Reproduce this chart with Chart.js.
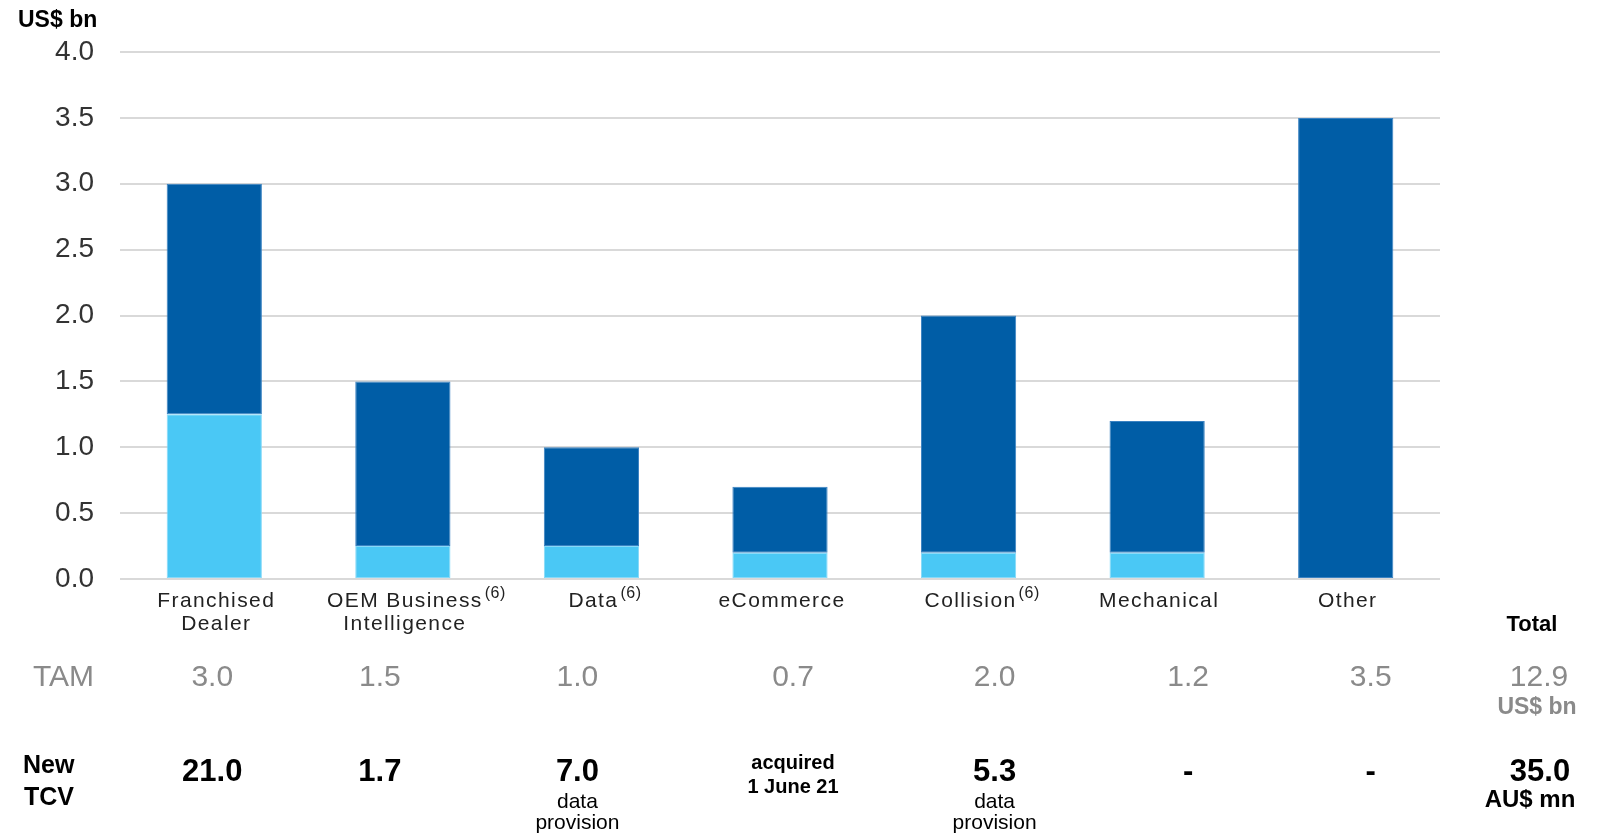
<!DOCTYPE html>
<html>
<head>
<meta charset="utf-8">
<script src="https://cdn.jsdelivr.net/npm/chart.js@4.4.1/dist/chart.umd.min.js"></script>
<style>
  html, body { margin: 0; padding: 0; background: #fff; }
  .chart-container { position: relative; width: 1601px; height: 836px; }
</style>
</head>
<body>
<div class="chart-container"><canvas id="tamChart"></canvas></div>
<script>
// категории и значения (US$ bn)
const categories = [['Franchised', 'Dealer'], ['OEM Business', 'Intelligence'], ['Data'], ['eCommerce'], ['Collision'], ['Mechanical'], ['Other']]
const footnotes = ['', '(6)', '(6)', '', '(6)', '', '']
const coreValues = [1.25, 0.25, 0.25, 0.2, 0.2, 0.2, 0]
const adjacentValues = [1.75, 1.25, 0.75, 0.5, 1.8, 1.0, 3.5]

// таблица под графиком
const tamLabels = ['3.0', '1.5', '1.0', '0.7', '2.0', '1.2', '3.5']
const tamTotal = '12.9'
const tcvLabels = ['21.0', '1.7', '7.0', '', '5.3', '-', '-']
const tcvNotes = [[], [], ['data', 'provision'], [], ['data', 'provision'], [], []]
const tcvBoldNotes = [[], [], [], ['acquired', '1 June 21'], [], [], []]
const tcvTotal = '35.0'

const yMax = 4
const yStep = 0.5

// сдвиг колонок таблицы относительно центра столбца (px)
const colShift = [-2, -23, -14, 13, 26, 31, 25]
const totalShift = 99

const FONT = "'Liberation Sans', Arial, sans-serif"

const tablePlugin = {
    id: 'tablePlugin',
    afterDraw(chart) {
        const ctx = chart.ctx
        const x = chart.scales.x
        const area = chart.chartArea
        ctx.save()
        ctx.textBaseline = 'alphabetic'

        // подписи категорий
        categories.forEach((lines, i) => {
            const cx = x.getPixelForValue(i) + 2
            ctx.fillStyle = '#222222'
            ctx.textAlign = 'center'
            ctx.font = '21px ' + FONT
            ctx.letterSpacing = '1.4px'
            lines.forEach((line, j) => ctx.fillText(line, cx, 607 + j * 23))
            if (footnotes[i]) {
                const w = ctx.measureText(lines[0]).width
                ctx.font = '16px ' + FONT
                ctx.letterSpacing = '0.6px'
                ctx.textAlign = 'left'
                ctx.fillText(footnotes[i], cx + w / 2 + 2, 598)
            }
        })
        ctx.letterSpacing = '0px'

        // US$ bn над осью
        ctx.fillStyle = '#000'
        ctx.textAlign = 'left'
        ctx.font = 'bold 23px ' + FONT
        ctx.fillText('US$ bn', 18, 27)

        // строка TAM
        ctx.fillStyle = '#8a8a8a'
        ctx.font = '30px ' + FONT
        ctx.textAlign = 'right'
        ctx.fillText('TAM', 94, 686)
        ctx.textAlign = 'center'
        tamLabels.forEach((t, i) => ctx.fillText(t, x.getPixelForValue(i) + colShift[i], 686))
        const totalX = area.right + totalShift
        ctx.fillText(tamTotal, totalX, 686)
        ctx.font = 'bold 23px ' + FONT
        ctx.fillText('US$ bn', totalX - 2, 714)

        // Total
        ctx.fillStyle = '#000'
        ctx.font = 'bold 22px ' + FONT
        ctx.fillText('Total', totalX - 7, 631)

        // строка New TCV
        ctx.textAlign = 'left'
        ctx.font = 'bold 25px ' + FONT
        ctx.fillText('New', 23, 773)
        ctx.fillText('TCV', 24, 805)

        ctx.textAlign = 'center'
        tcvLabels.forEach((t, i) => {
            const cx = x.getPixelForValue(i) + colShift[i]
            ctx.fillStyle = '#000'
            if (t) {
                ctx.font = 'bold 31px ' + FONT
                ctx.fillText(t, cx, 781)
            }
            ctx.font = 'bold 20px ' + FONT
            tcvBoldNotes[i].forEach((n, j) => ctx.fillText(n, cx, 769 + j * 24))
            ctx.font = '21px ' + FONT
            tcvNotes[i].forEach((n, j) => ctx.fillText(n, cx, 808 + j * 21))
        })
        ctx.font = 'bold 31px ' + FONT
        ctx.fillText(tcvTotal, totalX + 1, 781)
        ctx.font = 'bold 24px ' + FONT
        ctx.fillText('AU$ mn', totalX - 9, 807)

        ctx.restore()
    }
}

const ctx = document.getElementById('tamChart').getContext('2d')

new Chart(ctx, {
    type: 'bar',
    data: {
        labels: categories.map(c => c.join(' ')),
        datasets: [
            {
                label: 'core',
                data: coreValues,
                backgroundColor: '#4AC8F5',
                borderColor: '#86d9f8',
                borderWidth: 1,
                borderSkipped: false
            },
            {
                label: 'adjacent',
                data: adjacentValues,
                backgroundColor: '#005DA6',
                borderColor: '#3a82c2',
                borderWidth: 1,
                borderSkipped: false
            }
        ]
    },
    options: {
        responsive: true,
        maintainAspectRatio: false,
        animation: false,
        events: [],
        layout: { padding: { top: 52, right: 161, bottom: 257, left: 0 } },
        datasets: { bar: { barPercentage: 0.505, categoryPercentage: 1 } },
        plugins: { legend: { display: false }, tooltip: { enabled: false } },
        scales: {
            x: {
                stacked: true,
                ticks: { display: false },
                grid: { display: false, drawTicks: false },
                border: { display: false }
            },
            y: {
                stacked: true,
                min: 0,
                max: yMax,
                afterFit: (scale) => { scale.width = 120 },
                ticks: {
                    stepSize: yStep,
                    padding: 26,
                    color: '#333333',
                    font: { family: FONT, size: 28 },
                    callback: (v) => v.toFixed(1)
                },
                grid: { color: '#d9d9d9', lineWidth: 2, drawTicks: false },
                border: { display: false }
            }
        }
    },
    plugins: [tablePlugin]
})
</script>
</body>
</html>
